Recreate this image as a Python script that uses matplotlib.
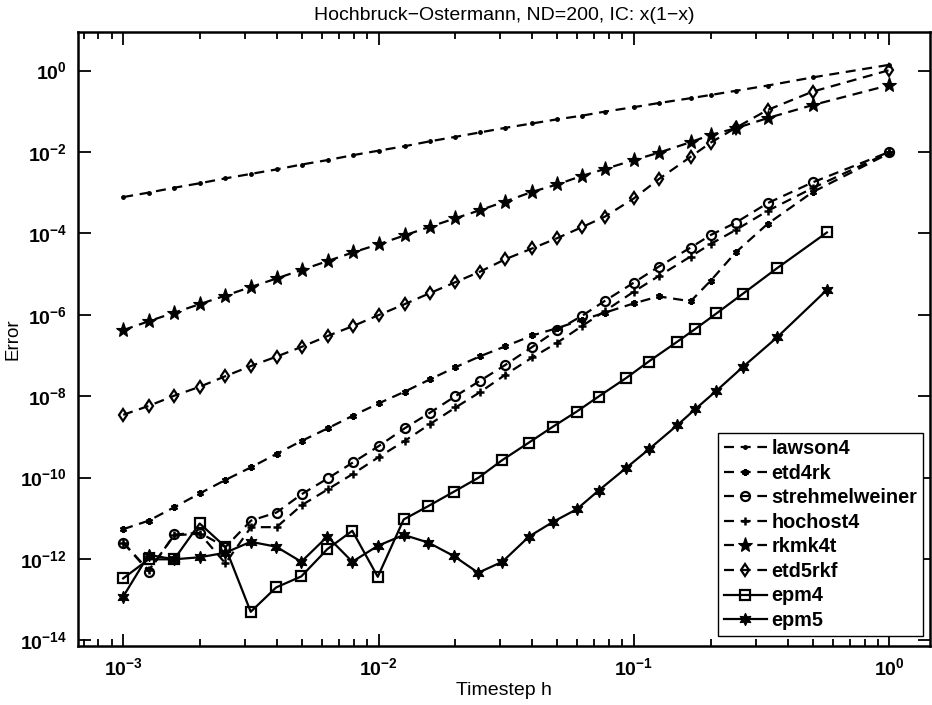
import matplotlib
matplotlib.use("Agg")
import matplotlib.pyplot as plt
import numpy as np
from matplotlib.ticker import LogLocator, NullFormatter, FixedLocator

# step counts used by the non-epm schemes, h = 1/N
steps = [1000, 794, 631, 501, 398, 316, 251, 200, 158, 126, 100, 79, 63, 50,
         40, 32, 25, 20, 16, 13, 10, 8, 6, 5, 4, 3, 2, 1]

# time steps used by the epm schemes
h_epm = [0.000999, 0.001258, 0.001583, 0.001993, 0.002507, 0.003157, 0.003972,
         0.004981, 0.006299, 0.007889, 0.009925, 0.01254, 0.01568, 0.0197,
         0.02454, 0.03053, 0.03882, 0.04818, 0.05968, 0.07269, 0.09296,
         0.1142, 0.148, 0.1737, 0.2102, 0.2662, 0.3627, 0.5692]

# log10 of the error for each scheme
lawson4 = [-3.11, -3.00, -2.88, -2.77, -2.65, -2.54, -2.43, -2.31, -2.20, -2.08,
           -1.97, -1.86, -1.74, -1.63, -1.52, -1.41, -1.30, -1.20, -1.11, -1.01,
           -0.90, -0.80, -0.68, -0.60, -0.50, -0.37, -0.17, 0.14]
etd4rk = [-11.27, -11.06, -10.73, -10.39, -10.06, -9.75, -9.42, -9.10, -8.79,
          -8.48, -8.18, -7.89, -7.59, -7.29, -7.02, -6.78, -6.51, -6.33, -6.13,
          -5.95, -5.72, -5.55, -5.67, -5.16, -4.47, -3.77, -2.99, -2.03]
strehmelweiner = [-11.60, -12.31, -11.40, -11.36, -11.71, -11.06, -10.86,
                  -10.41, -10.02, -9.63, -9.23, -8.79, -8.41, -8.00, -7.62,
                  -7.24, -6.79, -6.38, -6.03, -5.66, -5.21, -4.82, -4.35,
                  -4.04, -3.74, -3.26, -2.75, -2.00]
hochost4 = [-11.60, -12.28, -11.42, -11.38, -12.11, -11.22, -11.22, -10.68,
            -10.29, -9.91, -9.50, -9.10, -8.69, -8.28, -7.90, -7.48, -7.05,
            -6.69, -6.28, -5.91, -5.43, -5.05, -4.57, -4.26, -3.92, -3.45,
            -2.89, -2.01]
rkmk4t = [-6.38, -6.16, -5.95, -5.74, -5.53, -5.32, -5.11, -4.90, -4.68, -4.47,
          -4.27, -4.05, -3.84, -3.63, -3.43, -3.22, -2.98, -2.80, -2.59, -2.42,
          -2.20, -2.02, -1.76, -1.58, -1.42, -1.17, -0.85, -0.36]
etd5rkf = [-8.46, -8.24, -7.99, -7.77, -7.51, -7.26, -7.03, -6.79, -6.52, -6.28,
           -6.01, -5.74, -5.47, -5.20, -4.94, -4.64, -4.37, -4.12, -3.85, -3.59,
           -3.14, -2.67, -2.12, -1.77, -1.41, -0.97, -0.52, 0.01]
epm4 = [-12.48, -12.01, -12.01, -11.13, -11.70, -13.30, -12.70, -12.43, -11.76,
        -11.31, -12.44, -11.03, -10.70, -10.35, -10.01, -9.57, -9.14, -8.75,
        -8.38, -8.01, -7.56, -7.15, -6.66, -6.35, -5.97, -5.49, -4.86, -3.98]
epm5 = [-12.93, -11.90, -12.01, -11.96, -11.85, -11.58, -11.70, -12.07, -11.45,
        -12.07, -11.68, -11.41, -11.60, -11.93, -12.34, -12.07, -11.45, -11.09,
        -10.78, -10.32, -9.77, -9.31, -8.71, -8.32, -7.87, -7.29, -6.56, -5.39]

plt.rcParams['font.family'] = ['Liberation Sans', 'DejaVu Sans']
plt.rcParams['mathtext.fontset'] = 'custom'
plt.rcParams['mathtext.rm'] = 'Liberation Sans:bold'
plt.rcParams['mathtext.it'] = 'Liberation Sans:bold'
plt.rcParams['mathtext.bf'] = 'Liberation Sans:bold'

fig = plt.figure(figsize=(9.32, 7.05), dpi=100)
ax = fig.add_axes([78/932, 59/705, 852/932, 614/705])

h = 1.0 / np.array(steps)
lw = 1.6
dash = (4.5, 3)
# name, x, y, marker, size, edge width, filled, linestyle
series = [
    ('lawson4', h, lawson4, '.', 5, 1.0, True, '--'),
    ('etd4rk', h, etd4rk, (6, 2, 0), 5, 1.6, True, '--'),
    ('strehmelweiner', h, strehmelweiner, 'o', 6.5, 1.6, False, '--'),
    ('hochost4', h, hochost4, '+', 6, 1.8, False, '--'),
    ('rkmk4t', h, rkmk4t, '*', 11, 0.8, True, '--'),
    ('etd5rkf', h, etd5rkf, 'd', 6.5, 1.6, False, '--'),
    ('epm4', h_epm, epm4, 's', 6.5, 1.6, False, '-'),
    ('epm5', h_epm, epm5, (6, 1, 0), 9, 0.8, True, '-'),
]
for name, x, y, mk, ms, mew, filled, ls in series:
    line, = ax.plot(x, 10.0 ** np.array(y), color='k', lw=lw, ls=ls,
                    marker=mk, ms=ms, mew=mew, mec='k',
                    mfc='k' if filled else 'none', label=name)
    if ls == '--':
        line.set_dashes(dash)

ax.set_xscale('log')
ax.set_yscale('log')
ax.set_xlim(10 ** -3.177, 10 ** 0.159)
ax.set_ylim(10 ** -14.14, 10 ** 0.946)

ax.xaxis.set_major_locator(FixedLocator([1e-3, 1e-2, 1e-1, 1e0]))
ax.xaxis.set_minor_locator(LogLocator(base=10, subs=np.arange(2, 10), numticks=20))
ax.xaxis.set_minor_formatter(NullFormatter())
yt = [10.0 ** k for k in range(-14, 1, 2)]
ax.yaxis.set_major_locator(FixedLocator(yt))
ax.yaxis.set_minor_locator(FixedLocator([]))
ax.set_xticklabels([r'$10^{%d}$' % k for k in range(-3, 1)])
ax.set_yticklabels([r'$10^{%d}$' % k for k in range(-14, 1, 2)])

ax.tick_params(which='both', direction='in', top=True, right=True,
               labelsize=14, width=1.3, pad=8)
ax.tick_params(which='major', length=9)
ax.tick_params(which='minor', length=5)
for sp in ax.spines.values():
    sp.set_linewidth(1.8)

ax.set_xlabel('Timestep h', fontsize=14)
ax.set_ylabel('Error', fontsize=13.5)
ax.xaxis.set_label_coords(0.5, -0.059)
ax.yaxis.set_label_coords(-0.066, 0.5)
ax.set_title('Hochbruck\u2212Ostermann, ND=200, IC: x(1\u2212x)', fontsize=14, pad=9)

leg = ax.legend(loc='lower right', bbox_to_anchor=(923/932, 69/705),
                bbox_transform=fig.transFigure, borderaxespad=0,
                prop={'weight': 'bold', 'size': 14.3}, fancybox=False,
                framealpha=1, edgecolor='k', handlelength=2.2,
                handletextpad=0.2, labelspacing=0.28, borderpad=0.3)
leg.get_frame().set_linewidth(1.0)

fig.savefig('out.png', dpi=100)
